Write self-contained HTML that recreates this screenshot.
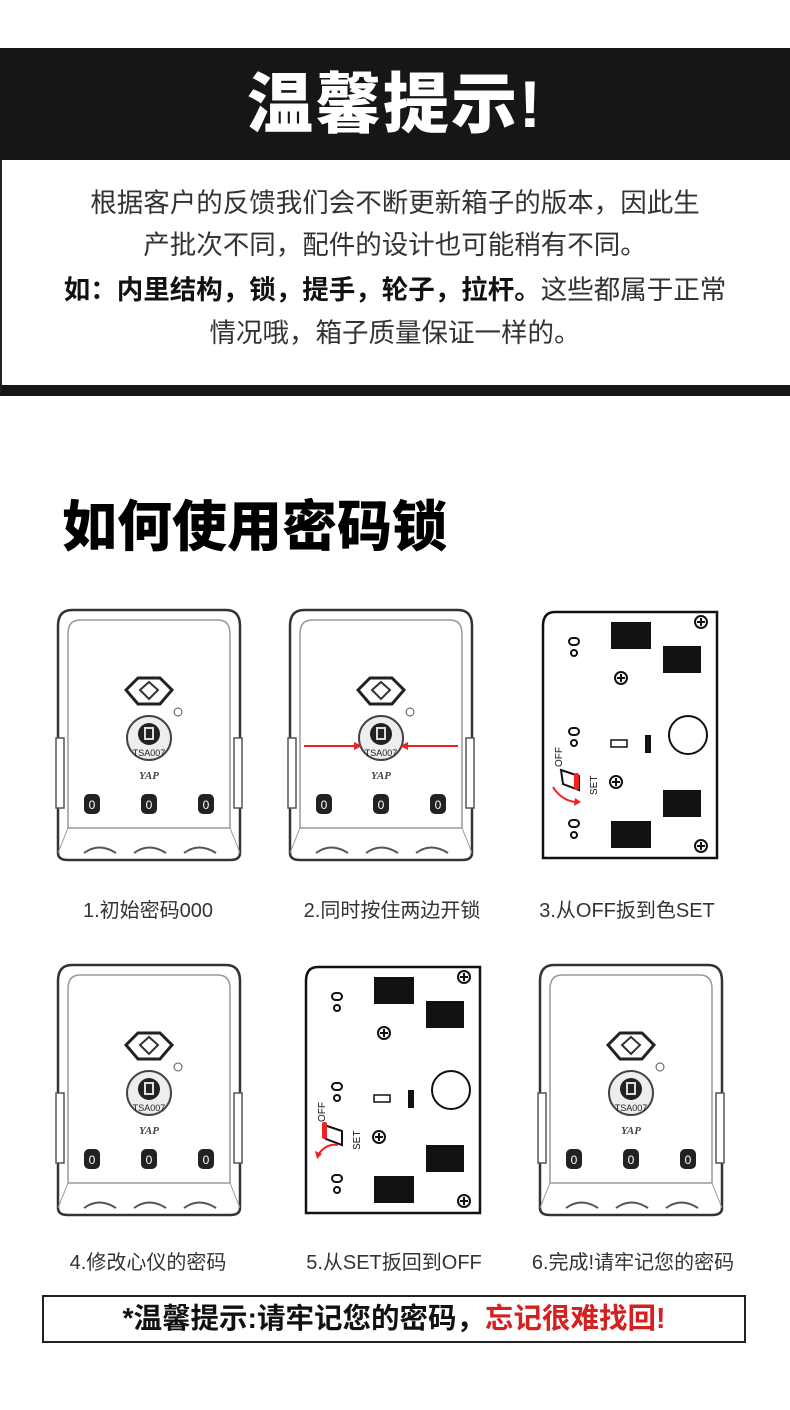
<!DOCTYPE html>
<html><head><meta charset="utf-8"><style>
*{margin:0;padding:0;box-sizing:border-box}
body{width:790px;height:1410px;background:#fff;position:relative;overflow:hidden;font-family:"Liberation Sans","Noto Sans CJK SC",sans-serif}
.abs{position:absolute}
.band{left:0;top:48px;width:790px;height:112px;background:#161616;color:#fff;text-align:center;font-size:66px;font-weight:900;line-height:112px;letter-spacing:2px}
.box{left:0;top:160px;width:790px;height:236px;border-left:2px solid #222;border-bottom:11px solid #161616}
.t{left:0;width:790px;text-align:center;font-size:26.5px;color:#333;line-height:32px}
.h2{left:62px;top:494px;font-size:55px;font-weight:900;color:#000;line-height:66px}
.lab{font-size:20px;color:#333;width:250px;text-align:center;line-height:24px}
.tip{left:42px;top:1295px;width:704px;height:48px;border:2px solid #222;text-align:center;font-size:28.5px;font-weight:bold;line-height:44px;color:#111}
</style></head><body>
<svg width="0" height="0" style="position:absolute">
<defs>
<symbol id="lock" viewBox="0 0 190 255">
<path d="M18 2 H172 Q186 2 186 18 V245 Q186 252 176 252 H14 Q4 252 4 245 V18 Q4 2 18 2Z" fill="#fff" stroke="#333" stroke-width="2.5"/>
<path d="M26 12 H164 Q176 12 176 26 V220 H14 V26 Q14 12 26 12Z" fill="none" stroke="#999" stroke-width="1.5"/>
<path d="M2 130 H10 V200 H2Z M180 130 H188 V200 H180Z" fill="#fff" stroke="#555" stroke-width="1.5"/>
<path d="M14 220 L4 245 M176 220 L186 245" stroke="#999"/>
<path d="M30 245 Q45 234 62 245 M80 245 Q95 234 112 245 M130 245 Q145 234 162 245" fill="none" stroke="#555" stroke-width="2"/>
<polygon points="72,82 84,70 106,70 118,82 106,96 84,96" fill="#fff" stroke="#222" stroke-width="3"/>
<polygon points="86,82 95,74 104,82 95,91" fill="none" stroke="#333" stroke-width="2"/>
<circle cx="124" cy="104" r="4" fill="none" stroke="#555"/>
<circle cx="95" cy="130" r="22" fill="#eee" stroke="#444" stroke-width="2"/>
<circle cx="95" cy="126" r="11" fill="#222"/>
<rect x="91" y="120" width="8" height="11" fill="none" stroke="#ddd" stroke-width="2"/>
<text x="95" y="148" font-size="9" text-anchor="middle" fill="#222" font-family="Liberation Sans">TSA007</text>
<text x="95" y="171" font-size="11" font-style="italic" font-weight="bold" text-anchor="middle" fill="#444" font-family="Liberation Serif">YAP</text>
<rect x="30" y="186" width="16" height="20" rx="5" fill="#222"/>
<rect x="87" y="186" width="16" height="20" rx="5" fill="#222"/>
<rect x="144" y="186" width="16" height="20" rx="5" fill="#222"/>
<text x="38" y="201" font-size="12" text-anchor="middle" fill="#fff" font-family="Liberation Sans">0</text>
<text x="95" y="201" font-size="12" text-anchor="middle" fill="#fff" font-family="Liberation Sans">0</text>
<text x="152" y="201" font-size="12" text-anchor="middle" fill="#fff" font-family="Liberation Sans">0</text>
</symbol>
<symbol id="dia" viewBox="0 0 178 250">
<path d="M14 2 H176 V248 H2 V16 Q2 2 14 2Z" fill="#fff" stroke="#111" stroke-width="2.5"/>
<rect x="70" y="12" width="40" height="27" fill="#111"/>
<rect x="122" y="36" width="38" height="27" fill="#111"/>
<rect x="122" y="180" width="38" height="27" fill="#111"/>
<rect x="70" y="211" width="40" height="27" fill="#111"/>
<rect x="28" y="28" width="10" height="7" rx="3.5" fill="none" stroke="#111" stroke-width="2"/>
<circle cx="33" cy="43" r="3" fill="none" stroke="#111" stroke-width="2"/>
<rect x="28" y="118" width="10" height="7" rx="3.5" fill="none" stroke="#111" stroke-width="2"/>
<circle cx="33" cy="133" r="3" fill="none" stroke="#111" stroke-width="2"/>
<rect x="28" y="210" width="10" height="7" rx="3.5" fill="none" stroke="#111" stroke-width="2"/>
<circle cx="33" cy="225" r="3" fill="none" stroke="#111" stroke-width="2"/>
<circle cx="160" cy="12" r="6" fill="none" stroke="#111" stroke-width="2"/><path d="M156 12h8M160 8v8" stroke="#111" stroke-width="2"/>
<circle cx="160" cy="236" r="6" fill="none" stroke="#111" stroke-width="2"/><path d="M156 236h8M160 232v8" stroke="#111" stroke-width="2"/>
<circle cx="80" cy="68" r="6" fill="none" stroke="#111" stroke-width="2"/><path d="M76 68h8M80 64v8" stroke="#111" stroke-width="2"/>
<circle cx="75" cy="172" r="6" fill="none" stroke="#111" stroke-width="2"/><path d="M71 172h8M75 168v8" stroke="#111" stroke-width="2"/>
<rect x="70" y="130" width="16" height="7" fill="none" stroke="#111" stroke-width="1.5"/>
<rect x="104" y="125" width="6" height="18" fill="#111"/>
<circle cx="147" cy="125" r="19" fill="none" stroke="#111" stroke-width="2"/>
<path d="M20 160 L38 166 L38 180 L22 174Z" fill="#fff" stroke="#111" stroke-width="2"/>
<text x="0" y="0" font-size="10" fill="#111" font-family="Liberation Sans" transform="translate(21,157) rotate(-90)">OFF</text>
<text x="0" y="0" font-size="10" fill="#111" font-family="Liberation Sans" transform="translate(56,185) rotate(-90)">SET</text>
</symbol>
</defs></svg>

<div class="abs band">温馨提示!</div>
<div class="abs box"></div>
<div class="abs t" style="top:187px">根据客户的反馈我们会不断更新箱子的版本，因此生</div>
<div class="abs t" style="top:229px">产批次不同，配件的设计也可能稍有不同。</div>
<div class="abs t" style="top:274px"><b style="color:#111">如：内里结构，锁，提手，轮子，拉杆。</b>这些都属于正常</div>
<div class="abs t" style="top:317px">情况哦，箱子质量保证一样的。</div>

<div class="abs h2">如何使用密码锁</div>

<svg class="abs" style="left:54px;top:608px" width="190" height="255"><use href="#lock"/></svg>
<svg class="abs" style="left:286px;top:608px" width="190" height="255"><use href="#lock"/>
<path d="M18 138 H68 M122 138 H172" stroke="#e22" stroke-width="2"/>
<path d="M68 134 L76 138 L68 142Z M122 134 L114 138 L122 142Z" fill="#e22"/></svg>
<svg class="abs" style="left:541px;top:610px" width="178" height="250"><use href="#dia"/>
<rect x="33" y="163" width="5" height="17" rx="2" fill="#e22"/>
<path d="M12 177 Q20 190 34 192" fill="none" stroke="#e22" stroke-width="2"/><path d="M34 188 L40 192 L33 196Z" fill="#e22"/></svg>

<svg class="abs" style="left:54px;top:963px" width="190" height="255"><use href="#lock"/></svg>
<svg class="abs" style="left:304px;top:965px" width="178" height="250"><use href="#dia"/>
<rect x="18" y="157" width="5" height="17" rx="2" fill="#e22"/>
<path d="M34 180 Q22 178 14 190" fill="none" stroke="#e22" stroke-width="2"/><path d="M11 186 L13 194 L18 189Z" fill="#e22"/></svg>
<svg class="abs" style="left:536px;top:963px" width="190" height="255"><use href="#lock"/></svg>

<div class="abs lab" style="left:23px;top:899px">1.初始密码000</div>
<div class="abs lab" style="left:267px;top:899px">2.同时按住两边开锁</div>
<div class="abs lab" style="left:502px;top:899px">3.从OFF扳到色SET</div>
<div class="abs lab" style="left:23px;top:1251px">4.修改心仪的密码</div>
<div class="abs lab" style="left:269px;top:1251px">5.从SET扳回到OFF</div>
<div class="abs lab" style="left:508px;top:1251px">6.完成!请牢记您的密码</div>

<div class="abs tip">*温馨提示:请牢记您的密码，<span style="color:#d42020">忘记很难找回!</span></div>
</body></html>
